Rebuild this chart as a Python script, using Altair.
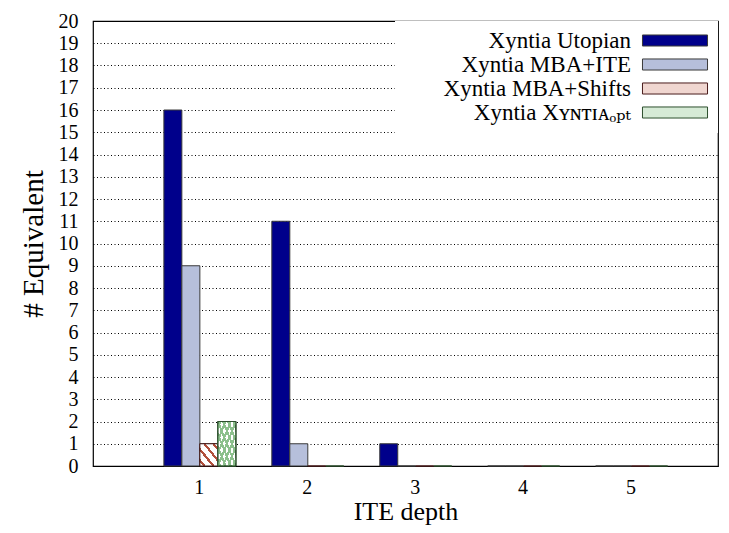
import altair as alt
import pandas as pd

# ---- data ----
depth = [1, 2, 3, 4, 5]
series_names = ["Xyntia Utopian", "Xyntia MBA+ITE", "Xyntia MBA+Shifts", "Xyntia Xʏɴᴛɪᴀₒₚₜ"]
utopian = [16, 11, 1, 0, 0]
mba_ite = [9, 1, 0, 0, 0]
mba_shifts = [1, 0, 0, 0, 0]
xyntia_opt = [2, 0, 0, 0, 0]
y_ticks = list(range(0, 21))
x_ticks = [1, 2, 3, 4, 5]

fills = ["#00008b", "#b6bfdb", "#f0d6d0", "#d6ead6"]
strokes = ["#3a3a3a", "#3a3a3a", "#4a1c1c", "#2d4f2d"]

rows = []
for idx, (name, vals) in enumerate(zip(series_names, [utopian, mba_ite, mba_shifts, xyntia_opt])):
    for d, v in zip(depth, vals):
        rows.append({"depth": d, "series": name, "idx": idx, "count": v})
df = pd.DataFrame(rows)

FONT = "Liberation Serif, DejaVu Serif, serif"
BW = 0.1667  # bar width in x units


def stripes(color, gap, n, hw, x1, y1, x2, y2):
    stops = [{"offset": 0, "color": gap}]
    for k in range(n):
        c = (k + 0.5) / n
        stops += [
            {"offset": round(c - hw, 4), "color": gap},
            {"offset": round(c - hw, 4), "color": color},
            {"offset": round(c + hw, 4), "color": color},
            {"offset": round(c + hw, 4), "color": gap},
        ]
    stops.append({"offset": 1, "color": gap})
    return {"gradient": "linear", "x1": x1, "y1": y1, "x2": x2, "y2": y2, "stops": stops}


grad_shift = stripes("#b2503c", "#ffffff", 4, 0.04, 0, 1, 1, 0)
grad_opt_a = stripes("#8cc08c", "#ffffff", 7, 0.03, 0, 1, 1, 0)
grad_opt_b = stripes("#8cc08c", "rgba(255,255,255,0)", 7, 0.03, 0, 0, 1, 1)

x_scale = alt.Scale(domain=[0.02, 5.81], nice=False, zero=False)
y_scale = alt.Scale(domain=[0, 20], nice=False)

x_axis = alt.Axis(values=x_ticks, grid=False, ticks=False, domain=False,
                  labelFont=FONT, labelFontSize=20, labelColor="black", labelPadding=11,
                  title="ITE depth", titleFont=FONT, titleFontSize=26, titleFontWeight="normal",
                  titleColor="black", titleBaseline="alphabetic", titleY=53)
y_axis = alt.Axis(values=y_ticks, grid=True, gridColor="black", gridDash=[1, 2.5], gridWidth=1,
                  ticks=False, domain=False,
                  labelFont=FONT, labelFontSize=20, labelColor="black", labelPadding=15,
                  title="# Equivalent", titleFont=FONT, titleFontSize=29, titleFontWeight="normal",
                  titleColor="black", titlePadding=10)

x_enc = alt.X("x0:Q", scale=x_scale, axis=x_axis)
x2_enc = alt.X2("x1:Q")
y_enc = alt.Y("count:Q", scale=y_scale, axis=y_axis)
y2_enc = alt.datum(0)

# wide legend swatch drawn to the right of the (right-aligned) label
legend = alt.Legend(title=None, orient="top-right", offset=0, fillColor="white", padding=8,
                    symbolType="M3.83,-0.92L14.67,-0.92L14.67,0.92L3.83,0.92Z", symbolSize=144,
                    symbolStrokeWidth=1, labelFont=FONT, labelFontSize=23, labelColor="black",
                    labelAlign="right", labelOffset=0, symbolOffset=205, rowPadding=0,
                    labelLimit=0)

base = alt.Chart(df).transform_calculate(
    x0=f"datum.depth + (datum.idx - 2) * {BW} + 0.01",
    x1=f"datum.depth + (datum.idx - 1) * {BW} + 0.01",
)

bars = base.mark_bar(strokeWidth=1).encode(
    x=x_enc, x2=x2_enc, y=y_enc, y2=y2_enc,
    fill=alt.Fill("series:N", scale=alt.Scale(domain=series_names, range=fills), legend=legend),
    stroke=alt.Stroke("series:N", scale=alt.Scale(domain=series_names, range=strokes), legend=legend),
)

hatch_shift = base.transform_filter("datum.idx == 2 && datum.count > 0").mark_bar(
    fill=grad_shift, stroke="#3a1414", strokeWidth=1
).encode(x=x_enc, x2=x2_enc, y=y_enc, y2=y2_enc)

hatch_opt_a = base.transform_filter("datum.idx == 3 && datum.count > 0").mark_bar(
    fill=grad_opt_a, stroke="#2d4f2d", strokeWidth=1
).encode(x=x_enc, x2=x2_enc, y=y_enc, y2=y2_enc)

hatch_opt_b = base.transform_filter("datum.idx == 3 && datum.count > 0").mark_bar(
    fill=grad_opt_b, stroke="#2d4f2d", strokeWidth=1
).encode(x=x_enc, x2=x2_enc, y=y_enc, y2=y2_enc)

chart = alt.layer(bars, hatch_shift, hatch_opt_a, hatch_opt_b).properties(
    width=625, height=445,
    padding={"left": 85, "top": 13, "right": 3, "bottom": 59},
    autosize=alt.AutoSizeParams(type="none"),
).configure_view(stroke="black", strokeWidth=1.2)

chart.save("out.html", embed_options={"renderer": "svg", "actions": False})
